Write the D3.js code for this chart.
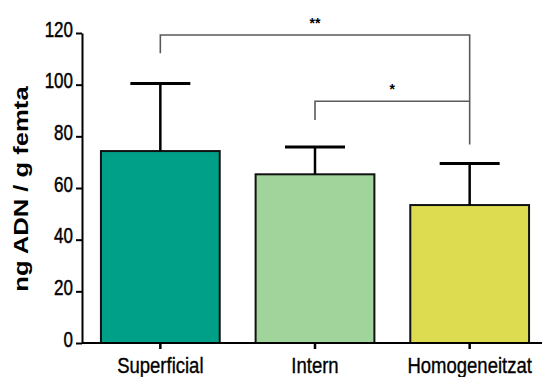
<!DOCTYPE html>
<html>
<head>
<meta charset="utf-8">
<script src="https://cdn.jsdelivr.net/npm/d3@7"></script>
<style>
  html, body { margin: 0; padding: 0; background: #fff; }
  svg { display: block; }
  text { font-family: "Liberation Sans", Arial, sans-serif; fill: #000; }
</style>
</head>
<body>
<svg id="chart" width="542" height="377"></svg>
<script>
// DNA yield per gram of semen, by fraction (mean and upper SD)
const categories = ["Superficial", "Intern", "Homogeneitzat"];
const means = [74.3, 65.3, 53.4];
const errorTops = [100.5, 75.9, 69.5];
const colors = ["#009f87", "#a0d49a", "#dddb50"];
const yTicks = [0, 20, 40, 60, 80, 100, 120];

// significance brackets: from/to category, bracket level and drop ends (in y units)
const brackets = [
  { from: "Superficial", to: "Homogeneitzat", level: 119.2, leftEnd: 112.2, rightEnd: 76.8, label: "**" },
  { from: "Intern", to: "Homogeneitzat", level: 93.6, leftEnd: 86.3, rightEnd: 93.6, label: "*" }
];

const svg = d3.select("#chart");
const W = 542, H = 377;
const axisX = 82;

const y = d3.scaleLinear().domain([0, 120]).range([343, 33]);
const x = d3.scaleBand().domain(categories)
  .range([83, 547]).paddingInner(0.232).paddingOuter(0.116);
const cx = c => x(c) + x.bandwidth() / 2;

// bars
svg.append("g").selectAll("rect").data(categories).join("rect")
  .attr("x", d => x(d))
  .attr("y", (d, i) => y(means[i]))
  .attr("width", x.bandwidth())
  .attr("height", (d, i) => y(0) - y(means[i]))
  .attr("fill", (d, i) => colors[i])
  .attr("stroke", "#111")
  .attr("stroke-width", 2);

// error bars
const eb = svg.append("g").attr("stroke", "#000");
categories.forEach((c, i) => {
  eb.append("line").attr("x1", cx(c)).attr("x2", cx(c))
    .attr("y1", y(means[i])).attr("y2", y(errorTops[i])).attr("stroke-width", 2.5);
  eb.append("line").attr("x1", cx(c) - 30).attr("x2", cx(c) + 30)
    .attr("y1", y(errorTops[i])).attr("y2", y(errorTops[i])).attr("stroke-width", 3);
});

// y axis
const yAxis = d3.axisLeft(y).tickValues(yTicks).tickSize(6).tickSizeOuter(0);
const gy = svg.append("g").attr("transform", `translate(${axisX},0)`).call(yAxis);
gy.select(".domain").attr("stroke", "#000").attr("stroke-width", 2);
gy.selectAll(".tick line").attr("stroke", "#000").attr("stroke-width", 2);
gy.selectAll(".tick text")
  .attr("font-size", 17)
  .attr("x", -9)
  .attr("dy", null)
  .attr("transform", "translate(0,3) scale(1,1.3)")
  .attr("stroke", "#000").attr("stroke-width", 0.35)
  .style("font-family", '"Liberation Sans", Arial, sans-serif');

// x axis
const xAxis = d3.axisBottom(x).tickSize(6).tickSizeOuter(0);
const gx = svg.append("g").attr("transform", `translate(0,${y(0)})`).call(xAxis);
gx.select(".domain").attr("d", `M${axisX},0H${W}`).attr("stroke", "#000").attr("stroke-width", 2);
gx.selectAll(".tick line").attr("stroke", "#000").attr("stroke-width", 2.5);
gx.selectAll(".tick text")
  .attr("font-size", 18.5)
  .attr("y", 0).attr("dy", null)
  .attr("transform", "translate(0,30) scale(1,1.15)")
  .attr("stroke", "#000").attr("stroke-width", 0.3)
  .style("font-family", '"Liberation Sans", Arial, sans-serif');

// y axis title
svg.append("text")
  .attr("transform", "translate(28,189) rotate(-90) scale(1.22,1)")
  .attr("text-anchor", "middle")
  .attr("font-size", 21)
  .attr("font-weight", "bold")
  .text("ng ADN / g femta");

// significance brackets
const gb = svg.append("g");
brackets.forEach(b => {
  const x1 = cx(b.from), x2 = cx(b.to);
  gb.append("path")
    .attr("d", `M${x1},${y(b.leftEnd)}V${y(b.level)}H${x2}V${y(b.rightEnd)}`)
    .attr("fill", "none").attr("stroke", "#5a5a5a").attr("stroke-width", 1.6);
  gb.append("text")
    .attr("x", (x1 + x2) / 2).attr("y", y(b.level) - 7)
    .attr("text-anchor", "middle")
    .attr("font-size", 14)
    .attr("font-weight", "bold")
    .attr("fill", "#333")
    .text(b.label);
});
</script>
</body>
</html>
